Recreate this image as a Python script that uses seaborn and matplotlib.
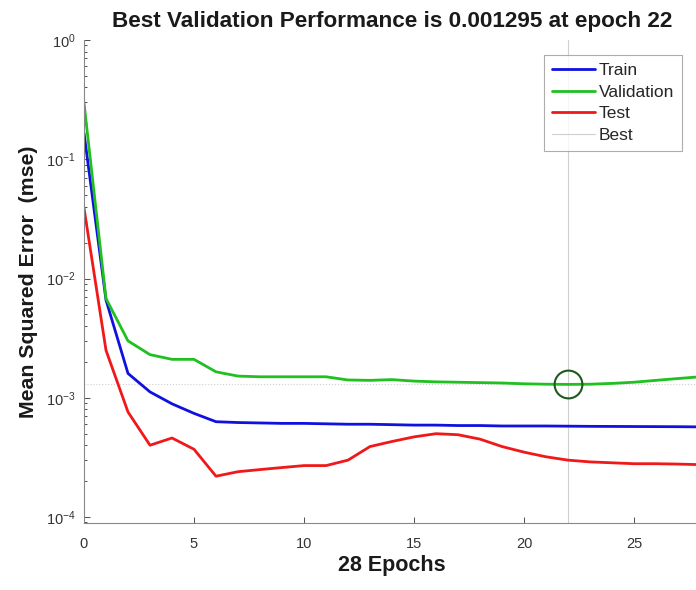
import numpy as np
import pandas as pd
import matplotlib
matplotlib.use("Agg")
import matplotlib.pyplot as plt
import seaborn as sns
from matplotlib.lines import Line2D

epochs = list(range(29))
train = [0.166, 0.0066, 0.0016, 0.00112, 0.00089, 0.00074, 0.00063, 0.00062, 0.000615,
         0.00061, 0.00061, 0.000605, 0.0006, 0.0006, 0.000595, 0.00059, 0.00059, 0.000585,
         0.000585, 0.00058, 0.00058, 0.00058, 0.000578, 0.000576, 0.000575, 0.000574,
         0.000573, 0.000572, 0.00057]
validation = [0.296, 0.0068, 0.0030, 0.0023, 0.0021, 0.0021, 0.00165, 0.00152, 0.0015,
              0.0015, 0.0015, 0.0015, 0.00141, 0.0014, 0.00142, 0.00138, 0.00136, 0.00135,
              0.00134, 0.00133, 0.00131, 0.0013, 0.001295, 0.0013, 0.00132, 0.00135,
              0.0014, 0.00145, 0.0015]
test = [0.039, 0.0025, 0.00076, 0.0004, 0.00046, 0.00037, 0.00022, 0.00024, 0.00025,
        0.00026, 0.00027, 0.00027, 0.0003, 0.00039, 0.00043, 0.00047, 0.0005, 0.00049,
        0.00045, 0.00039, 0.00035, 0.00032, 0.0003, 0.00029, 0.000285, 0.00028,
        0.00028, 0.000278, 0.000275]
best_epoch = 22
best_perf = 0.001295
x_ticks = [0, 5, 10, 15, 20, 25]
y_ticks = [1e-4, 1e-3, 1e-2, 1e-1, 1e0]

df = pd.DataFrame({"Epoch": epochs, "Train": train, "Validation": validation, "Test": test})
long = df.melt(id_vars="Epoch", var_name="Series", value_name="MSE")

sns.set_theme(style="white")
plt.rcParams["font.family"] = ["Liberation Sans", "DejaVu Sans"]
plt.rcParams["axes.unicode_minus"] = False

fig = plt.figure(figsize=(6.96, 5.90), dpi=100)
ax = fig.add_axes([84 / 696, 67 / 590, 616 / 696, 483 / 590])

palette = {"Train": "#1010e0", "Validation": "#1fc01f", "Test": "#f01818"}
sns.lineplot(data=long, x="Epoch", y="MSE", hue="Series", palette=palette,
             linewidth=2.0, ax=ax, legend=False)

ax.axvline(best_epoch, color="#cfcfcf", linewidth=0.8, zorder=0)
ax.axhline(best_perf, color="#cfcfcf", linewidth=0.8, linestyle=":", zorder=0)
ax.plot([best_epoch], [best_perf], marker="o", markersize=20, markerfacecolor="none",
        markeredgecolor="#1e5a1e", markeredgewidth=1.5, linestyle="none")

ax.set_yscale("log")
ax.set_xlim(0, 28)
ax.set_ylim(10 ** -4.05, 1.0)
ax.set_xticks(x_ticks)
ax.set_yticks(y_ticks)
ax.tick_params(axis="both", which="both", direction="in", colors="#333333",
               labelsize=10.5, length=4, width=0.6, left=True, bottom=True)
ax.tick_params(axis="y", which="minor", length=2, left=True)
ax.tick_params(axis="x", pad=10)
ax.tick_params(axis="y", pad=6)
for s in ["top", "right"]:
    ax.spines[s].set_visible(False)
for s in ["left", "bottom"]:
    ax.spines[s].set_color("#888888")
    ax.spines[s].set_linewidth(0.8)

ax.set_title("Best Validation Performance is 0.001295 at epoch 22", fontsize=16.2,
             fontweight="bold", pad=9, color="#1a1a1a")
ax.set_xlabel("28 Epochs", fontsize=15.5, fontweight="bold", labelpad=3, color="#1a1a1a")
ax.set_ylabel("Mean Squared Error  (mse)", fontsize=15.3, fontweight="bold", labelpad=6,
              color="#1a1a1a")

handles = [Line2D([], [], color=palette["Train"], lw=2),
           Line2D([], [], color=palette["Validation"], lw=2),
           Line2D([], [], color=palette["Test"], lw=2),
           Line2D([], [], color="#cfcfcf", lw=0.8)]
leg = ax.legend(handles, ["Train", "Validation", "Test", "Best"], loc="upper right",
                bbox_to_anchor=((682 - 84) / 616, 1 - 15 / 483),
                fontsize=12.5, frameon=True, fancybox=False, handlelength=2.5,
                handletextpad=0.2, borderpad=0.45, labelspacing=0.38, borderaxespad=0)
leg.get_frame().set_edgecolor("#999999")
leg.get_frame().set_linewidth(0.8)

fig.savefig("out.png", dpi=100)
